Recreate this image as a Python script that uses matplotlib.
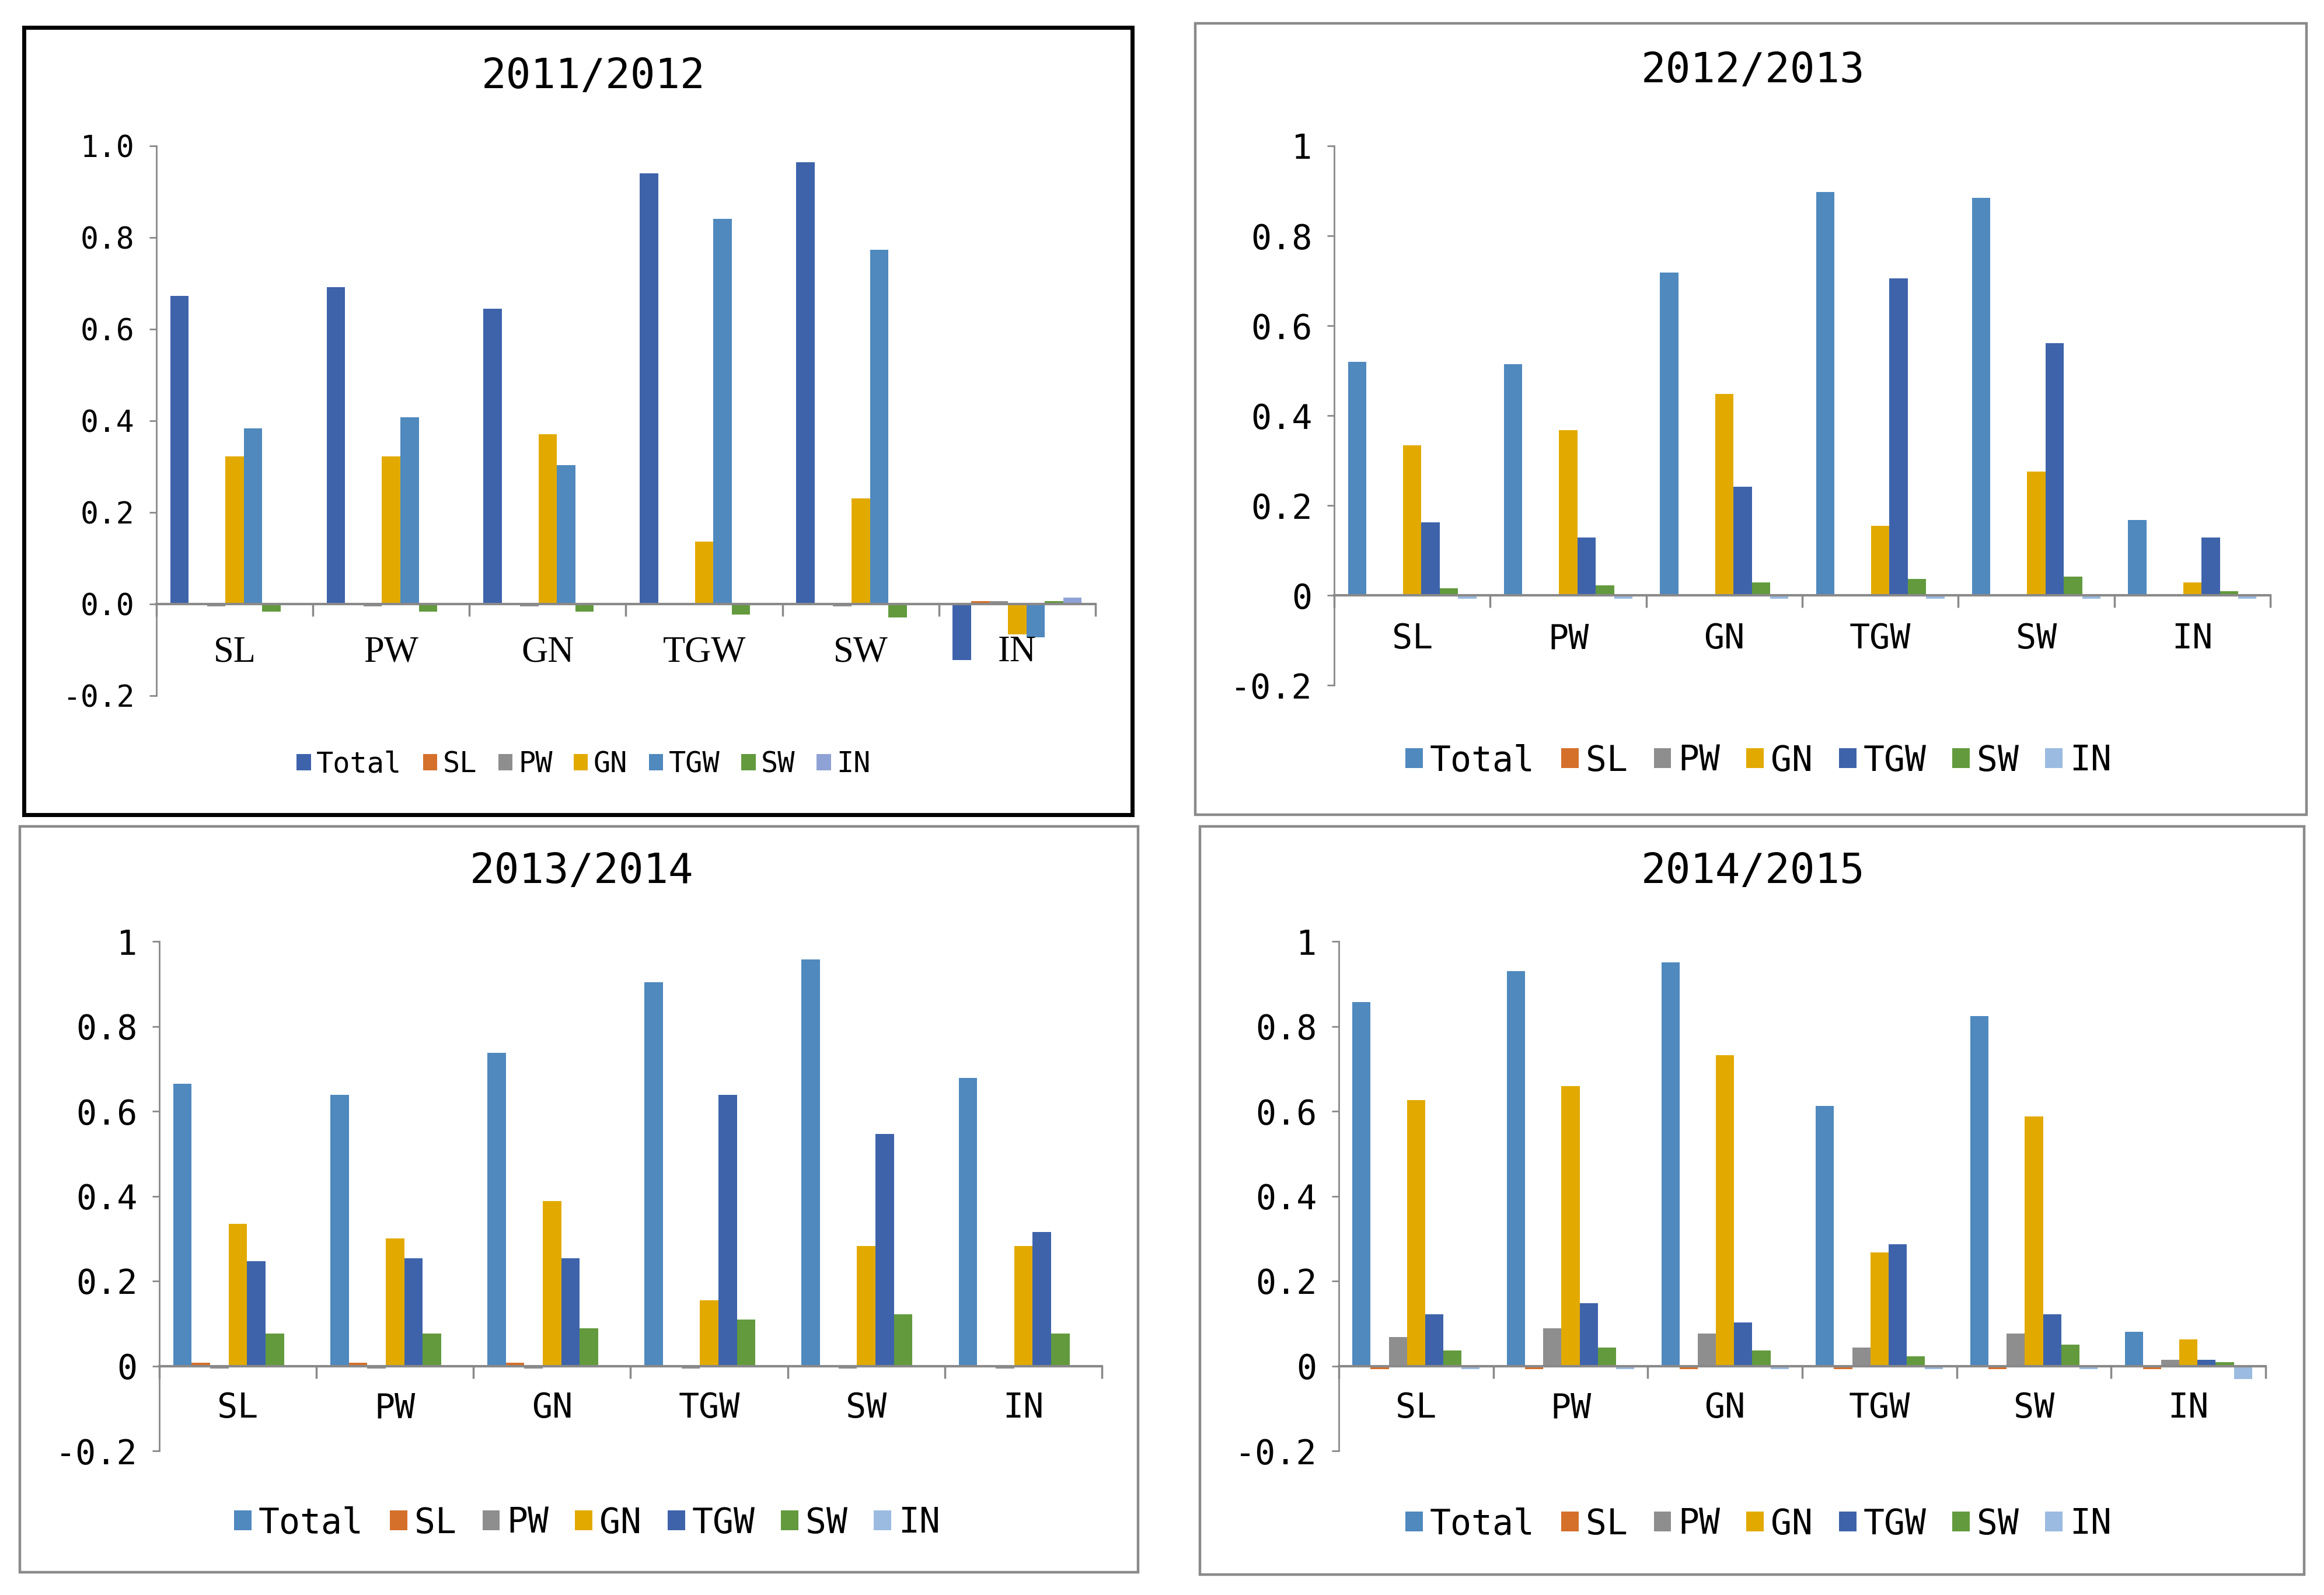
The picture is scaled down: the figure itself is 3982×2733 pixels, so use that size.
import numpy as np
import matplotlib
matplotlib.use("Agg")
import matplotlib.pyplot as plt
from matplotlib.patches import Rectangle

# ---------------- data ----------------
categories = ['SL', 'PW', 'GN', 'TGW', 'SW', 'IN']
series_names = ['Total', 'SL', 'PW', 'GN', 'TGW', 'SW', 'IN']

# 2011/2012
total_1112 = [0.672, 0.692, 0.644, 0.940, 0.964, -0.122]
sl_1112 = [0.0, 0.0, 0.0, 0.0, 0.0, 0.007]
pw_1112 = [-0.005, -0.005, -0.005, 0.0, -0.005, 0.007]
gn_1112 = [0.322, 0.322, 0.371, 0.136, 0.230, -0.066]
tgw_1112 = [0.383, 0.408, 0.303, 0.841, 0.773, -0.073]
sw_1112 = [-0.016, -0.016, -0.016, -0.023, -0.029, 0.007]
in_1112 = [0.0, 0.0, 0.0, 0.0, 0.0, 0.014]

# 2012/2013
total_1213 = [0.519, 0.514, 0.718, 0.898, 0.885, 0.168]
sl_1213 = [0.0, 0.0, 0.0, 0.0, 0.0, 0.0]
pw_1213 = [0.0, 0.0, 0.0, 0.0, 0.0, 0.0]
gn_1213 = [0.334, 0.367, 0.448, 0.155, 0.275, 0.029]
tgw_1213 = [0.162, 0.129, 0.242, 0.705, 0.561, 0.129]
sw_1213 = [0.016, 0.022, 0.029, 0.036, 0.042, 0.009]
in_1213 = [-0.008, -0.008, -0.008, -0.008, -0.008, -0.008]

# 2013/2014
total_1314 = [0.665, 0.639, 0.738, 0.904, 0.957, 0.679]
sl_1314 = [0.008, 0.008, 0.008, 0.0, 0.0, 0.0]
pw_1314 = [-0.006, -0.006, -0.006, -0.006, -0.006, -0.006]
gn_1314 = [0.335, 0.301, 0.388, 0.155, 0.282, 0.282]
tgw_1314 = [0.247, 0.254, 0.254, 0.639, 0.547, 0.315]
sw_1314 = [0.076, 0.076, 0.089, 0.109, 0.122, 0.076]
in_1314 = [0.0, 0.0, 0.0, 0.0, 0.0, 0.0]

# 2014/2015
total_1415 = [0.857, 0.930, 0.950, 0.613, 0.824, 0.081]
sl_1415 = [-0.008, -0.008, -0.008, -0.008, -0.008, -0.008]
pw_1415 = [0.068, 0.089, 0.076, 0.043, 0.076, 0.015]
gn_1415 = [0.626, 0.659, 0.732, 0.268, 0.587, 0.063]
tgw_1415 = [0.122, 0.148, 0.103, 0.287, 0.122, 0.015]
sw_1415 = [0.037, 0.043, 0.037, 0.022, 0.050, 0.009]
in_1415 = [-0.008, -0.008, -0.008, -0.008, -0.008, -0.031]

titles = ['2011/2012', '2012/2013', '2013/2014', '2014/2015']
yticks = [-0.2, 0.0, 0.2, 0.4, 0.6, 0.8, 1.0]
ytick_labels_p1 = ['-0.2', '0.0', '0.2', '0.4', '0.6', '0.8', '1.0']
ytick_labels = ['-0.2', '0', '0.2', '0.4', '0.6', '0.8', '1']

# colours
C_LBLUE = '#4F89BE'
C_ORANGE = '#D5702B'
C_GRAY = '#8E8E8E'
C_GOLD = '#E2AA00'
C_DBLUE = '#3E63AB'
C_GREEN = '#629A3D'
C_PALE = '#9BBBE0'
C_LAV = '#8FA2D5'
AX_GRAY = '#898989'

colors_p1 = [C_DBLUE, C_ORANGE, C_GRAY, C_GOLD, C_LBLUE, C_GREEN, C_LAV]
colors_std = [C_LBLUE, C_ORANGE, C_GRAY, C_GOLD, C_DBLUE, C_GREEN, C_PALE]

panels = [
    dict(data=[total_1112, sl_1112, pw_1112, gn_1112, tgw_1112, sw_1112, in_1112],
         colors=colors_p1, ylabels=ytick_labels_p1,
         box=(268, 250, 1877, 1192), title_xy=(1017, 131), leg_xy=(1000, 1309),
         frame=(40.5, 47, 1940, 1396), frame_color='black', frame_lw=5.0,
         tick_fs=37, cat_fs=45, cat_family='Liberation Serif', leg_fs=35, cat_y=-0.106),
    dict(data=[total_1213, sl_1213, pw_1213, gn_1213, tgw_1213, sw_1213, in_1213],
         colors=colors_std, ylabels=ytick_labels,
         box=(2286, 250, 3890, 1174), title_xy=(3004, 122), leg_xy=(3013, 1304),
         frame=(2048, 40, 3952, 1396), frame_color='#8A8A8A', frame_lw=3.2,
         tick_fs=42, cat_fs=42, cat_family='DejaVu Sans Mono', leg_fs=43, cat_y=-0.097),
    dict(data=[total_1314, sl_1314, pw_1314, gn_1314, tgw_1314, sw_1314, in_1314],
         colors=colors_std, ylabels=ytick_labels,
         box=(273, 1613, 1888, 2486), title_xy=(997, 1493), leg_xy=(1006, 2610),
         frame=(34, 1416, 1950, 2694), frame_color='#8A8A8A', frame_lw=3.2,
         tick_fs=42, cat_fs=42, cat_family='DejaVu Sans Mono', leg_fs=43, cat_y=-0.099),
    dict(data=[total_1415, sl_1415, pw_1415, gn_1415, tgw_1415, sw_1415, in_1415],
         colors=colors_std, ylabels=ytick_labels,
         box=(2294, 1613, 3882, 2486), title_xy=(3004, 1493), leg_xy=(3013, 2612),
         frame=(2056, 1416, 3948, 2698), frame_color='#8A8A8A', frame_lw=3.2,
         tick_fs=42, cat_fs=42, cat_family='DejaVu Sans Mono', leg_fs=43, cat_y=-0.099),
]

W, H = 3982, 2733
fig = plt.figure(figsize=(W / 100, H / 100), dpi=100)
fig.patch.set_facecolor('white')

MONO = 'DejaVu Sans Mono'
n_series = len(series_names)
bw = 1.0 / (n_series + 1.5)
x = np.arange(len(categories))

for p, title in zip(panels, titles):
    x0, y0, x1, y1 = p['box']
    ax = fig.add_axes([x0 / W, 1 - y1 / H, (x1 - x0) / W, (y1 - y0) / H])
    handles = []
    for j, (vals, col, name) in enumerate(zip(p['data'], p['colors'], series_names)):
        b = ax.bar(x + (j - 3) * bw, vals, width=bw, color=col, label=name,
                   edgecolor='none', zorder=2)
        handles.append(b)
    ax.set_xlim(-0.5, len(categories) - 0.5)
    ax.set_ylim(-0.2, 1.0)

    for s in ['top', 'right']:
        ax.spines[s].set_visible(False)
    ax.spines['left'].set_color(AX_GRAY)
    ax.spines['left'].set_linewidth(2.0)
    ax.spines['bottom'].set_position(('data', 0))
    ax.spines['bottom'].set_color(AX_GRAY)
    ax.spines['bottom'].set_linewidth(3.0)
    ax.spines['bottom'].set_zorder(3)

    ax.set_yticks(yticks)
    ax.set_yticklabels(p['ylabels'], fontfamily=MONO, fontsize=p['tick_fs'])
    ax.tick_params(axis='y', direction='out', length=9, width=2.0, color=AX_GRAY,
                   pad=18)
    ax.set_xticks(np.arange(-0.5, len(categories), 1.0))
    ax.set_xticklabels([])
    ax.tick_params(axis='x', direction='out', length=15, width=2.5, color=AX_GRAY)

    for i, c in enumerate(categories):
        ax.text(i, p['cat_y'], c, ha='center', va='center', fontsize=p['cat_fs'],
                fontfamily=p['cat_family'], color='black')

    tx, ty = p['title_xy']
    fig.text(tx / W, 1 - ty / H, title, ha='center', va='center',
             fontsize=51, fontfamily=MONO, color='black')

    lx, ly = p['leg_xy']
    fs = p['leg_fs']
    fig.legend(handles=handles, labels=series_names, loc='center',
               bbox_to_anchor=(lx / W, 1 - ly / H), ncol=n_series, frameon=False,
               prop={'family': MONO, 'size': fs}, handlelength=0.5, handleheight=0.5,
               handletextpad=0.2, columnspacing=0.75, borderaxespad=0, borderpad=0)

    fx0, fy0, fx1, fy1 = p['frame']
    fig.add_artist(Rectangle((fx0 / W, 1 - fy1 / H), (fx1 - fx0) / W, (fy1 - fy0) / H,
                             transform=fig.transFigure, fill=False,
                             edgecolor=p['frame_color'], linewidth=p['frame_lw']))

fig.savefig('out.png', dpi=100, facecolor='white')
